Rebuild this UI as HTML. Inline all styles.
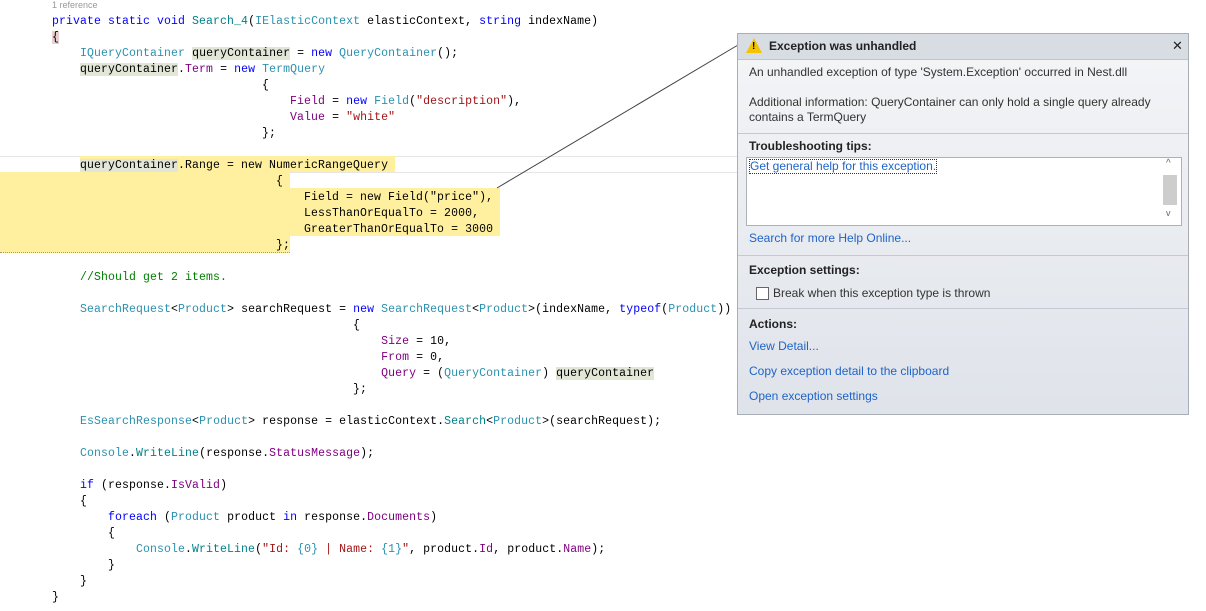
<!DOCTYPE html>
<html><head><meta charset="utf-8"><style>
body{margin:0;width:1206px;height:611px;background:#fff;position:relative;overflow:hidden;font-family:"Liberation Sans",sans-serif}
.c{position:absolute;left:52px;margin:0;font-family:"Liberation Mono",monospace;font-size:11.5px;letter-spacing:0.1px;line-height:16px;white-space:pre;color:#000}
.k{color:#0000ff}.t{color:#2b91af}.p{color:#800080}.s{color:#a31515}.g{color:#008000}.m{color:#00808a}
.hl{background:#e2e6d6}
.y{position:absolute;background:#fff0a0}
.d{position:absolute;left:737px;top:33px;width:450px;height:380px;border:1px solid #a8adb6;background:linear-gradient(#f4f5f7,#dfe3ea);font-size:12px;color:#333}
.d div{position:absolute}
.sep{left:0;width:450px;height:1px;background:#c5c9d0}
a{color:#1e64c8;text-decoration:none}
</style></head><body>
<div style="position:absolute;left:52px;top:0;font-size:9px;color:#999">1 reference</div>
<div style="position:absolute;left:0;top:156px;width:737px;height:1px;background:#e6e6e6"></div>
<div style="position:absolute;left:0;top:172px;width:737px;height:1px;background:#e6e6e6"></div>
<div class="y" style="left:80px;top:156px;width:315px;height:16px"></div>
<div class="y" style="left:0;top:172px;width:290px;height:80px;border-bottom:1px dotted #999"></div>
<div class="y" style="left:290px;top:188px;width:210px;height:48px"></div>
<pre class="c" style="top:14px"><span class="k">private static void</span> <span class="m">Search_4</span>(<span class="t">IElasticContext</span> elasticContext, <span class="k">string</span> indexName)
<span style="background:#e8d0d0">{</span>
    <span class="t">IQueryContainer</span> <span class="hl">queryContainer</span> = <span class="k">new</span> <span class="t">QueryContainer</span>();
    <span class="hl">queryContainer</span>.<span class="p">Term</span> = <span class="k">new</span> <span class="t">TermQuery</span>
                              {
                                  <span class="p">Field</span> = <span class="k">new</span> <span class="t">Field</span>(<span class="s">"description"</span>),
                                  <span class="p">Value</span> = <span class="s">"white"</span>
                              };

    <span class="hl">queryContainer</span>.Range = new NumericRangeQuery
                                {
                                    Field = new Field("price"),
                                    LessThanOrEqualTo = 2000,
                                    GreaterThanOrEqualTo = 3000
                                };

    <span class="g">//Should get 2 items.</span>

    <span class="t">SearchRequest</span>&lt;<span class="t">Product</span>&gt; searchRequest = <span class="k">new</span> <span class="t">SearchRequest</span>&lt;<span class="t">Product</span>&gt;(indexName, <span class="k">typeof</span>(<span class="t">Product</span>))
                                           {
                                               <span class="p">Size</span> = 10,
                                               <span class="p">From</span> = 0,
                                               <span class="p">Query</span> = (<span class="t">QueryContainer</span>) <span class="hl">queryContainer</span>
                                           };

    <span class="t">EsSearchResponse</span>&lt;<span class="t">Product</span>&gt; response = elasticContext.<span class="m">Search</span>&lt;<span class="t">Product</span>&gt;(searchRequest);

    <span class="t">Console</span>.<span class="m">WriteLine</span>(response.<span class="p">StatusMessage</span>);

    <span class="k">if</span> (response.<span class="p">IsValid</span>)
    {
        <span class="k">foreach</span> (<span class="t">Product</span> product <span class="k">in</span> response.<span class="p">Documents</span>)
        {
            <span class="t">Console</span>.<span class="m">WriteLine</span>(<span class="s">"Id: </span><span class="t">{0}</span><span class="s"> | Name: </span><span class="t">{1}</span><span class="s">"</span>, product.<span class="p">Id</span>, product.<span class="p">Name</span>);
        }
    }
}</pre>
<svg style="position:absolute;left:0;top:0" width="1206" height="611"><line x1="497" y1="188" x2="738" y2="45" stroke="#444" stroke-width="1"/></svg>
<div class="d">
 <div style="left:0;top:0;width:450px;height:25px;background:#d8dce3;border-bottom:1px solid #c0c4cc"></div>
 <div style="left:8px;top:4px;width:0;height:0;border-left:8px solid transparent;border-right:8px solid transparent;border-bottom:15px solid #f5c400"></div>
 <div style="left:14px;top:7px;font-size:10px;font-weight:bold;color:#000">!</div>
 <div style="left:31px;top:5px;font-weight:bold;color:#222">Exception was unhandled</div>
 <div style="left:434px;top:4px;font-size:13px;color:#222">✕</div>
 <div style="left:11px;top:31px">An unhandled exception of type 'System.Exception' occurred in Nest.dll</div>
 <div style="left:11px;top:61px;width:420px;line-height:15px">Additional information: QueryContainer can only hold a single query already contains a TermQuery</div>
 <div class="sep" style="top:99px"></div>
 <div style="left:11px;top:105px;font-weight:bold;color:#222">Troubleshooting tips:</div>
 <div style="left:8px;top:123px;width:434px;height:67px;background:#fff;border:1px solid #adb2b8"></div>
 <div style="left:11px;top:125px;border:1px dotted #333;line-height:13px"><a>Get general help for this exception.</a></div>
 <div style="left:425px;top:141px;width:14px;height:30px;background:#cdcdcd"></div>
 <div style="left:428px;top:124px;font-size:10px;color:#666">^</div>
 <div style="left:428px;top:174px;font-size:9px;color:#666">v</div>
 <div style="left:11px;top:197px"><a>Search for more Help Online...</a></div>
 <div class="sep" style="top:221px"></div>
 <div style="left:11px;top:229px;font-weight:bold;color:#222">Exception settings:</div>
 <div style="left:18px;top:253px;width:11px;height:11px;background:#fff;border:1px solid #666"></div>
 <div style="left:35px;top:252px">Break when this exception type is thrown</div>
 <div class="sep" style="top:274px"></div>
 <div style="left:11px;top:283px;font-weight:bold;color:#222">Actions:</div>
 <div style="left:11px;top:305px"><a>View Detail...</a></div>
 <div style="left:11px;top:330px"><a>Copy exception detail to the clipboard</a></div>
 <div style="left:11px;top:355px"><a>Open exception settings</a></div>
</div>
</body></html>
